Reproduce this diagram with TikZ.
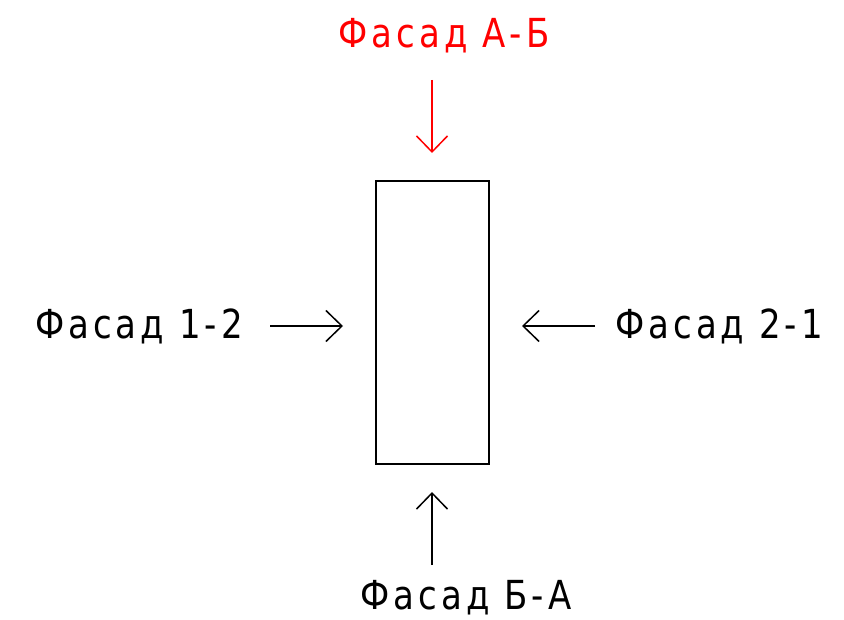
\documentclass[tikz,border=0pt]{standalone}
\usepackage{fontspec}
\setmainfont{DejaVu Sans}[LetterSpace=10, FakeStretch=0.85]
\usetikzlibrary{arrows.meta, positioning}

\begin{document}
\begin{tikzpicture}[
    x=1pt, y=-1pt,
    plan/.style={rectangle, draw, line width=1.5pt, minimum width=113pt, minimum height=283pt, inner sep=0pt},
    label/.style={inner sep=0pt, font=\fontsize{40}{44}\selectfont},
    arrow/.style={-{Straight Barb[length=16pt, width=31pt]}, line width=1.5pt}]
    \useasboundingbox (0,0) rectangle (844,620);
    % Nodes
    \node[plan] (house) at (432.5,322.5) {};
    \node[label, text=red, anchor=base] (fab) at (444,48) {Фасад А-Б};
    \node[label, anchor=base west] (f12) at (35,339) {Фасад 1-2};
    \node[label, anchor=base east] (f21) at (823,339) {Фасад 2-1};
    \node[label, anchor=base] (fba) at (466,609) {Фасад Б-А};
    % Arrow ends
    \coordinate (ab0) at (432,80);   \coordinate (ab1) at (432,153);
    \coordinate (ba0) at (432,565);  \coordinate (ba1) at (432,492);
    \coordinate (l0) at (270,326);   \coordinate (l1) at (343,326);
    \coordinate (r0) at (595,326);   \coordinate (r1) at (522,326);
    % Arrows
    \draw[arrow, red] (ab0) -- (ab1);
    \draw[arrow] (ba0) -- (ba1);
    \draw[arrow] (l0) -- (l1);
    \draw[arrow] (r0) -- (r1);
\end{tikzpicture}
\end{document}
